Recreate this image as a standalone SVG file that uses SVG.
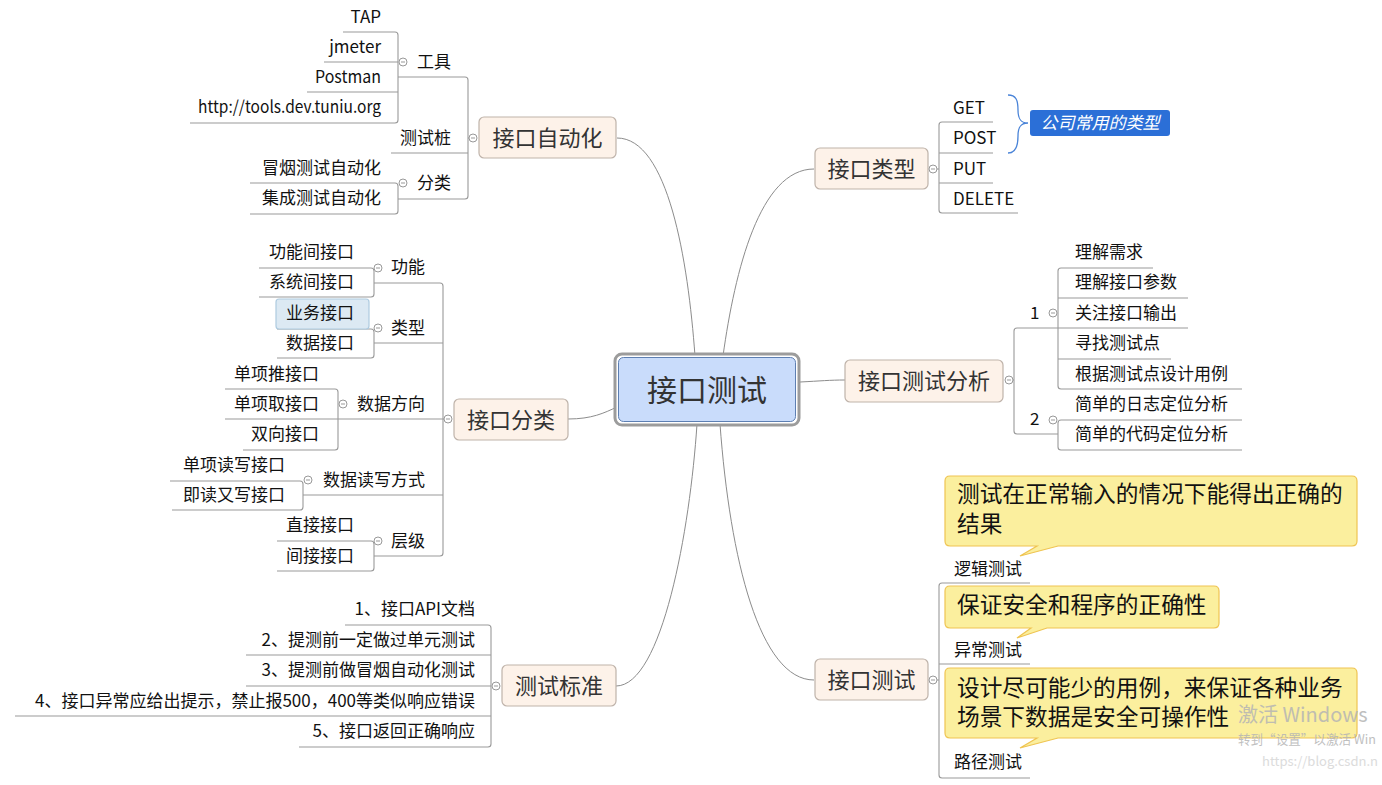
<svg xmlns="http://www.w3.org/2000/svg" width="1382" height="785" viewBox="0 0 1382 785">
<defs>
<style>
text{font-family:"Noto Sans CJK SC","Liberation Sans",sans-serif;}
.t{font-size:17px;fill:#111;}
.e{text-anchor:end;}
.b{font-size:22px;fill:#333;text-anchor:middle;}
.box{fill:#fdf2e9;stroke:#bfb3aa;stroke-width:1.2;}
.ln{fill:none;stroke:#9a9a9a;stroke-width:1.1;}
.cv{fill:none;stroke:#8c8c8c;stroke-width:1;}
.co{fill:#fbef9e;stroke:#efc452;stroke-width:1.2;}
.ct{font-size:22.7px;fill:#111;}
.wm{fill:#b5b5b5;}
</style>
<g id="knob"><circle r="4" fill="#fff" stroke="#999" stroke-width="1"/><line x1="-2" y1="0" x2="2" y2="0" stroke="#999" stroke-width="1"/></g>
</defs>
<rect width="1382" height="785" fill="#fff"/>

<g id="connectors">
<path class="cv" d="M617,138 C668,138 688,260 695,356"/>
<path class="cv" d="M814,169 C760,169 735,270 723,356"/>
<path class="cv" d="M568,419 C592,419 604,413 617,407"/>
<path class="cv" d="M800,382 C820,381 830,380 845,380"/>
<path class="cv" d="M616,686 C662,686 690,530 697,424"/>
<path class="cv" d="M814,680 C760,680 730,560 720,424"/>

<!-- 接口自动化 -->
<path class="ln" d="M398,77 H465 Q468,77 468,80 V196 Q468,199 465,199 H398 M391,153 H468 M468,138 H469"/>
<path class="ln" d="M343,32 H395 Q398,32 398,35 V120 Q398,123 395,123 H190 M324,62 H398 M307,92 H398"/>
<path class="ln" d="M250,183 H395 Q398,183 398,186 V211 Q398,214 395,214 H250"/>
<!-- 接口分类 -->
<path class="ln" d="M374,283 H440 Q443,283 443,286 V553 Q443,556 440,556 H374 M374,343 H443 M338,419 H443 M303,495 H443 M443,419 H444"/>
<path class="ln" d="M259,268 H371 Q374,268 374,271 V294 Q374,297 371,297 H259"/>
<path class="ln" d="M277,329 H371 Q374,329 374,332 V355 Q374,358 371,358 H277"/>
<path class="ln" d="M225,389 H335 Q338,389 338,392 V447 Q338,450 335,450 H243 M225,419 H338"/>
<path class="ln" d="M170,481 H300 Q303,481 303,484 V507 Q303,510 300,510 H172"/>
<path class="ln" d="M277,541 H371 Q374,541 374,544 V568 Q374,571 371,571 H277"/>
<!-- 测试标准 -->
<path class="ln" d="M345,625 H488 Q491,625 491,628 V744 Q491,747 488,747 H299 M246,655 H491 M246,686 H491 M15,716 H491"/>
<!-- 接口类型 -->
<path class="ln" d="M993,122 H942 Q939,122 939,125 V210 Q939,213 942,213 H1018 M939,153 H993 M939,183 H993 M937,169 H939"/>
<!-- 接口测试分析 -->
<path class="ln" d="M1058,328 H1017 Q1014,328 1014,331 V431 Q1014,434 1017,434 H1058 M1013,380 H1014"/>
<path class="ln" d="M1153,268 H1061 Q1058,268 1058,271 V386 Q1058,389 1061,389 H1242 M1058,298 H1188 M1058,328 H1188 M1058,359 H1171"/>
<path class="ln" d="M1242,420 H1061 Q1058,420 1058,423 V447 Q1058,450 1061,450 H1242"/>
<!-- 接口测试 -->
<path class="ln" d="M1030,583 H942 Q939,583 939,586 V775 Q939,778 942,778 H1030 M939,664 H1030 M937,680 H939"/>
<!-- brace -->
<path d="M1008,95 C1016,95 1018,100 1018,110 C1018,118 1020,123 1028,123 C1020,123 1018,128 1018,136 C1018,146 1016,153 1008,153" fill="none" stroke="#4a84d8" stroke-width="1.3"/>
</g>

<g id="central">
<rect x="615" y="354" width="184" height="71" rx="7" fill="#fff" stroke="#9c9c9c" stroke-width="3"/>
<rect x="618.5" y="357.5" width="177" height="64" rx="5" fill="#c9dcfb" stroke="#5d7fb2" stroke-width="1"/>
<text x="707" y="401" font-size="30" fill="#333" text-anchor="middle">接口测试</text>
</g>

<g id="n-auto">
<rect class="box" x="479" y="117" width="137" height="41" rx="5"/>
<text class="b" x="547.5" y="145.5">接口自动化</text>
<use href="#knob" x="473" y="138"/>
</g>
<g id="n-auto-tool">
<text class="t e" x="451" y="68">工具</text><use href="#knob" x="403" y="62"/>
<text class="t e" x="381" y="23">TAP</text>
<text class="t e" x="381" y="53">jmeter</text>
<text class="t e" x="381" y="83" textLength="66" lengthAdjust="spacingAndGlyphs">Postman</text>
<text class="t e" x="381" y="113" textLength="183" lengthAdjust="spacingAndGlyphs">http://tools.dev.tuniu.org</text>
</g>
<g id="n-auto-stub"><text class="t e" x="451" y="144">测试桩</text></g>
<g id="n-auto-cat">
<text class="t e" x="451" y="189">分类</text><use href="#knob" x="403" y="183"/>
<text class="t e" x="381" y="174">冒烟测试自动化</text>
<text class="t e" x="381" y="204">集成测试自动化</text>
</g>

<g id="n-class">
<rect class="box" x="454" y="399" width="114" height="41" rx="5"/>
<text class="b" x="511" y="427.5">接口分类</text>
<use href="#knob" x="448" y="419"/>
</g>
<g id="n-class-func">
<text class="t e" x="425" y="273">功能</text><use href="#knob" x="378" y="268"/>
<text class="t e" x="354" y="258">功能间接口</text>
<text class="t e" x="354" y="288">系统间接口</text>
</g>
<g id="n-class-type">
<rect x="276" y="299" width="93" height="30" rx="3" fill="#dce9f3" stroke="#aecbe0" stroke-width="1.2"/>
<text class="t e" x="425" y="334">类型</text><use href="#knob" x="378" y="328"/>
<text class="t e" x="354" y="319" fill="#333">业务接口</text>
<text class="t e" x="354" y="349">数据接口</text>
</g>
<g id="n-class-dir">
<text class="t e" x="425" y="410">数据方向</text><use href="#knob" x="343" y="404"/>
<text class="t e" x="319" y="380">单项推接口</text>
<text class="t e" x="319" y="410">单项取接口</text>
<text class="t e" x="319" y="440">双向接口</text>
</g>
<g id="n-class-rw">
<text class="t e" x="425" y="486">数据读写方式</text><use href="#knob" x="308" y="480"/>
<text class="t e" x="285" y="471">单项读写接口</text>
<text class="t e" x="285" y="501">即读又写接口</text>
</g>
<g id="n-class-level">
<text class="t e" x="425" y="547">层级</text><use href="#knob" x="378" y="541"/>
<text class="t e" x="354" y="531">直接接口</text>
<text class="t e" x="354" y="562">间接接口</text>
</g>

<g id="n-std">
<rect class="box" x="502" y="665" width="114" height="41" rx="5"/>
<text class="b" x="559" y="693.5">测试标准</text>
<use href="#knob" x="496" y="686"/>
<text class="t e" x="475" y="615">1、接口API文档</text>
<text class="t e" x="475" y="646">2、提测前一定做过单元测试</text>
<text class="t e" x="475" y="676">3、提测前做冒烟自动化测试</text>
<text class="t e" x="475" y="707">4、接口异常应给出提示，禁止报500，400等类似响应错误</text>
<text class="t e" x="475" y="737">5、接口返回正确响应</text>
</g>

<g id="n-type">
<rect class="box" x="815" y="148" width="113" height="41" rx="5"/>
<text class="b" x="871.5" y="176.5">接口类型</text>
<use href="#knob" x="933" y="169"/>
<text class="t" x="953" y="114">GET</text>
<text class="t" x="953" y="144">POST</text>
<text class="t" x="953" y="175">PUT</text>
<text class="t" x="953" y="205">DELETE</text>
</g>
<g id="n-type-note">
<rect x="1030" y="110" width="140" height="26" rx="3" fill="#2b6fd7"/>
<text x="1100" y="129" font-size="17" fill="#fff" font-style="italic" text-anchor="middle">公司常用的类型</text>
</g>

<g id="n-analysis">
<rect class="box" x="845" y="360" width="158" height="42" rx="5"/>
<text class="b" x="924" y="389">接口测试分析</text>
<use href="#knob" x="1009" y="380"/>
</g>
<g id="n-analysis-1">
<text class="t" x="1030" y="319">1</text><use href="#knob" x="1053" y="313"/>
<text class="t" x="1075" y="258">理解需求</text>
<text class="t" x="1075" y="288">理解接口参数</text>
<text class="t" x="1075" y="319">关注接口输出</text>
<text class="t" x="1075" y="349">寻找测试点</text>
<text class="t" x="1075" y="380">根据测试点设计用例</text>
</g>
<g id="n-analysis-2">
<text class="t" x="1030" y="425">2</text><use href="#knob" x="1053" y="420"/>
<text class="t" x="1075" y="410">简单的日志定位分析</text>
<text class="t" x="1075" y="440">简单的代码定位分析</text>
</g>

<g id="n-test">
<rect class="box" x="815" y="659" width="113" height="41" rx="5"/>
<text class="b" x="871.5" y="687.5">接口测试</text>
<use href="#knob" x="933" y="680"/>
</g>
<g id="n-test-logic">
<path class="co" d="M950,476 H1352 Q1357,476 1357,481 V541 Q1357,546 1352,546 H1058 L1020,556 L1037,546 H950 Q945,546 945,541 V481 Q945,476 950,476 Z"/>
<text class="ct" x="957" y="502">测试在正常输入的情况下能得出正确的</text>
<text class="ct" x="957" y="532">结果</text>
<text class="t" x="954" y="575">逻辑测试</text>
</g>
<g id="n-test-exc">
<path class="co" d="M950,586 H1214 Q1219,586 1219,591 V623 Q1219,628 1214,628 H1047 L1017,638 L1031,628 H950 Q945,628 945,623 V591 Q945,586 950,586 Z"/>
<text class="ct" x="957" y="613">保证安全和程序的正确性</text>
<text class="t" x="954" y="656">异常测试</text>
</g>
<g id="n-test-path">
<path class="co" d="M950,668 H1352 Q1357,668 1357,673 V733 Q1357,738 1352,738 H1058 L1020,748 L1037,738 H950 Q945,738 945,733 V673 Q945,668 950,668 Z"/>
<text class="ct" x="957" y="696">设计尽可能少的用例，来保证各种业务</text>
<text class="ct" x="957" y="725">场景下数据是安全可操作性</text>
<text class="t" x="954" y="768">路径测试</text>
</g>

<g id="watermark" opacity="0.85">
<text class="wm" x="1238" y="722" font-size="20">激活 Windows</text>
<text class="wm" x="1238" y="744" font-size="13" textLength="138" lengthAdjust="spacingAndGlyphs">转到“设置”以激活 Win</text>
<text x="1262" y="766" font-size="13" fill="#d6d6d6" textLength="116" lengthAdjust="spacingAndGlyphs">https://blog.csdn.n</text>
</g>
</svg>
